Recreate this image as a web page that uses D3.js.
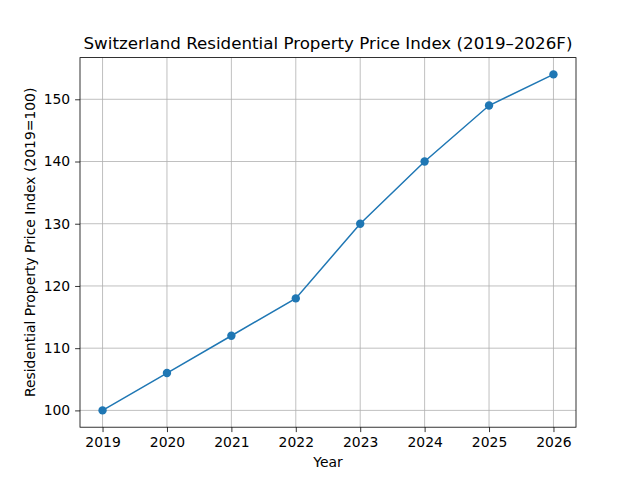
<!DOCTYPE html>
<html>
<head>
<meta charset="utf-8">
<title>Switzerland Residential Property Price Index</title>
<script src="https://d3js.org/d3.v7.min.js"></script>
<style>
  body { margin: 0; background: #fff; }
  svg { font-family: "DejaVu Sans", sans-serif; }
</style>
</head>
<body>
<svg width="640" height="480"></svg>
<script>
const years = [2019, 2020, 2021, 2022, 2023, 2024, 2025, 2026];
const index = [100, 106, 112, 118, 130, 140, 149, 154];
const yTicks = [100, 110, 120, 130, 140, 150];

const W = 640, H = 480;
const axL = 80, axR = 576, axT = 57.6, axB = 427.2;

const svg = d3.select("svg");

// matplotlib-style 5% margins
const xPad = (d3.max(years) - d3.min(years)) * 0.05;
const yPad = (d3.max(index) - d3.min(index)) * 0.05;

const x = d3.scaleLinear()
    .domain([d3.min(years) - xPad, d3.max(years) + xPad])
    .range([axL, axR]);
const y = d3.scaleLinear()
    .domain([d3.min(index) - yPad, d3.max(index) + yPad])
    .range([axB, axT]);

// grid
const grid = svg.append("g");
grid.selectAll("line.vx").data(years).join("line")
    .attr("x1", d => x(d)).attr("x2", d => x(d))
    .attr("y1", axT).attr("y2", axB)
    .attr("stroke", "#b0b0b0").attr("stroke-width", 0.8);
grid.selectAll("line.hy").data(yTicks).join("line")
    .attr("x1", axL).attr("x2", axR)
    .attr("y1", d => y(d)).attr("y2", d => y(d))
    .attr("stroke", "#b0b0b0").attr("stroke-width", 0.8);

// axes
const xAxis = svg.append("g")
    .attr("transform", `translate(0,${axB})`)
    .call(d3.axisBottom(x).tickValues(years).tickFormat(d3.format("d")).tickSizeInner(4.9).tickSizeOuter(0).tickPadding(4.9));
const yAxis = svg.append("g")
    .attr("transform", `translate(${axL},0)`)
    .call(d3.axisLeft(y).tickValues(yTicks).tickSizeInner(4.9).tickSizeOuter(0).tickPadding(4.9));
[xAxis, yAxis].forEach(a => {
  a.select(".domain").remove();
  a.selectAll("text").attr("font-size", 13.9).attr("font-family", "DejaVu Sans").attr("fill", "#000");
  a.selectAll("line").attr("stroke", "#000").attr("stroke-width", 0.8);
});

// frame
svg.append("rect")
    .attr("x", axL).attr("y", axT)
    .attr("width", axR - axL).attr("height", axB - axT)
    .attr("fill", "none").attr("stroke", "#000").attr("stroke-width", 0.8);

// line + markers
const pts = years.map((yr, i) => [yr, index[i]]);
svg.append("path")
    .datum(pts)
    .attr("fill", "none")
    .attr("stroke", "#1f77b4")
    .attr("stroke-width", 1.5)
    .attr("d", d3.line().x(d => x(d[0])).y(d => y(d[1])));
svg.append("g").selectAll("circle").data(pts).join("circle")
    .attr("cx", d => x(d[0])).attr("cy", d => y(d[1]))
    .attr("r", 4.2).attr("fill", "#1f77b4");

// labels
svg.append("text")
    .attr("x", (axL + axR) / 2).attr("y", 49)
    .attr("text-anchor", "middle").attr("font-size", 16.7)
    .text("Switzerland Residential Property Price Index (2019–2026F)");
svg.append("text")
    .attr("x", (axL + axR) / 2).attr("y", 467)
    .attr("text-anchor", "middle").attr("font-size", 13.9)
    .text("Year");
svg.append("text")
    .attr("transform", `translate(35,${(axT + axB) / 2}) rotate(-90)`)
    .attr("text-anchor", "middle").attr("font-size", 13.9)
    .text("Residential Property Price Index (2019=100)");
</script>
</body>
</html>
